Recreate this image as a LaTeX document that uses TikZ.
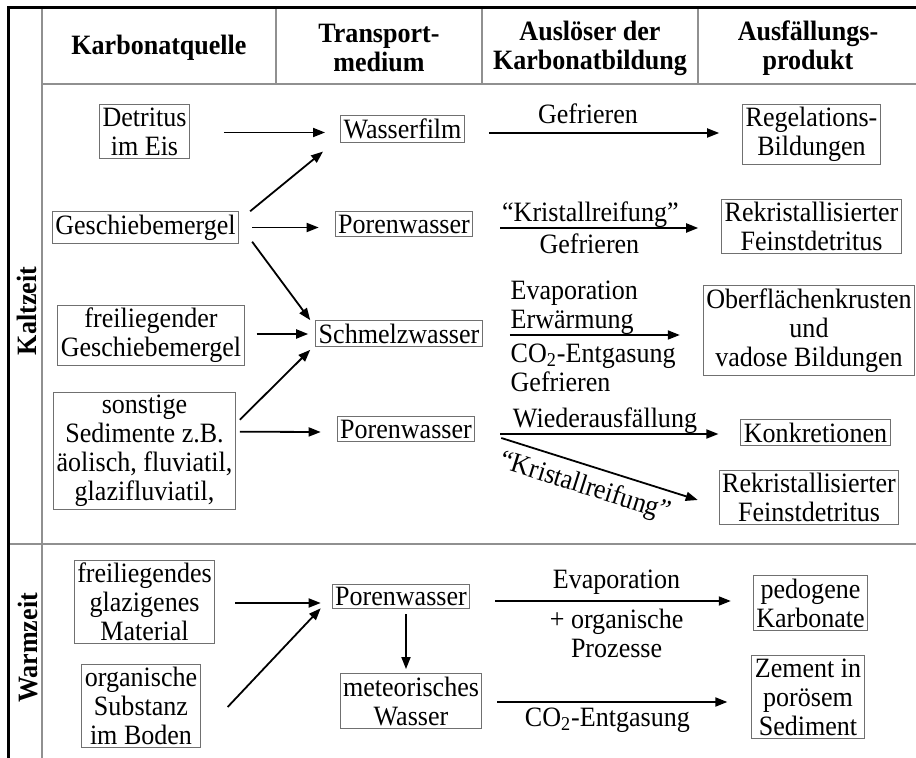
\documentclass[tikz,border=0pt]{standalone}
\usepackage{fontspec}
\setmainfont{Liberation Serif}[FakeStretch=0.93]
\usetikzlibrary{arrows.meta}
\definecolor{lgray}{HTML}{909090}
\definecolor{bgray}{HTML}{707070}

\begin{document}
\begin{tikzpicture}[
    x=0.5pt, y=-0.5pt,
    every node/.style={font=\fontsize{14}{14.5}\selectfont},
    box/.style={rectangle, draw=bgray, line width=0.5pt, inner sep=1.5pt, align=center},
    head/.style={align=center, font=\fontsize{14}{14.5}\selectfont\bfseries},
    era/.style={rotate=90, font=\fontsize{14}{14.5}\selectfont\bfseries},
    arr/.style={-{Triangle[length=6pt, width=4.5pt]}, line width=0.9pt},
    lab/.style={inner sep=0pt, align=center},
    rule/.style={lgray, line width=0.6pt},
]

\useasboundingbox (0,0) rectangle (916,758);

% Table lines
\draw[rule] (42,8) -- (42,758);
\draw[rule] (42,84) -- (916,84);
\draw[rule] (8,544) -- (916,544);
\foreach \cx in {276,482,698}
    \draw[rule] (\cx,8) -- (\cx,84);
\draw[line width=1.5pt] (8,758) -- (8,8) -- (916,8);

% Header
\node[head] (hquelle) at (159,48) {Karbonatquelle};
\node[head] (hmedium) at (379,48) {Transport-\\medium};
\node[head] (hausl) at (590,48) {Auslöser der\\Karbonatbildung};
\node[head] (hprod) at (808,48) {Ausfällungs-\\produkt};

\node[era] (kalt) at (27,311) {Kaltzeit};
\node[era] (warm) at (28,648) {Warmzeit};

% Kaltzeit: sources
\node[box] (detritus) at (144.5,131.5) {Detritus\\im Eis};
\node[box] (gmergel) at (145.5,227.5) {Geschiebemergel};
\node[box] (fmergel) at (151,335.5) {freiliegender\\Geschiebemergel};
\node[box] (sonst) at (144.5,451) {sonstige\\Sedimente z.B.\\äolisch, fluviatil,\\glazifluviatil,};

% Kaltzeit: media
\node[box] (wfilm) at (402.5,129) {Wasserfilm};
\node[box] (pw1) at (404,224) {Porenwasser};
\node[box] (schmelz) at (399,333.5) {Schmelzwasser};
\node[box] (pw2) at (406,429) {Porenwasser};

% Kaltzeit: products
\node[box] (regel) at (811.5,134.5) {Regelations-\\Bildungen};
\node[box] (rek1) at (811.5,226.5) {Rekristallisierter\\Feinstdetritus};
\node[box] (krust) at (809,330.5) {Oberflächenkrusten\\und\\vadose Bildungen};
\node[box] (konkr) at (815.5,432.5) {Konkretionen};
\node[box] (rek2) at (809,497.5) {Rekristallisierter\\Feinstdetritus};

% Warmzeit
\node[box] (glaz) at (144.5,602) {freiliegendes\\glazigenes\\Material};
\node[box] (organ) at (141,706) {organische\\Substanz\\im Boden};
\node[box] (pw3) at (401,596.5) {Porenwasser};
\node[box] (meteor) at (411,701) {meteorisches\\Wasser};
\node[box] (pedo) at (810.5,603) {pedogene\\Karbonate};
\node[box] (zement) at (808,697) {Zement in\\porösem\\Sediment};

% Arrows: sources -> media
\draw[arr] ([shift={(34,1)}]detritus.east) -- ([shift={(-15,3.5)}]wfilm.west);
\draw[arr] ([shift={(11,0)}]gmergel.north east) -- ([shift={(-17,9)}]wfilm.south west);
\draw[arr] ([shift={(13,0)}]gmergel.east) -- ([shift={(-16,3.5)}]pw1.west);
\draw[arr] ([shift={(13,-2)}]gmergel.south east) -- ([shift={(-5,0)}]schmelz.north west);
\draw[arr] ([shift={(12,-1.5)}]fmergel.east) -- ([shift={(-7,0.5)}]schmelz.west);
\draw[arr] ([shift={(4,28)}]sonst.north east) -- ([shift={(-5,3)}]schmelz.south west);
\draw[arr] ([shift={(4,40)}]sonst.north east) -- ([shift={(-16,3)}]pw2.west);
\draw[arr] ([shift={(20,1)}]glaz.east) -- ([shift={(-11,6.5)}]pw3.west);
\draw[arr] ([shift={(27,1)}]organ.east) -- ([shift={(-11,-1)}]pw3.south west);
\draw[arr] ([shift={(5,5)}]pw3.south) -- ([shift={(-5,-4)}]meteor.north);

% Arrows: media -> products
\draw[arr] ([shift={(24,4)}]wfilm.east) -- node[lab, above=4pt, pos=.43] {Gefrieren}
    ([shift={(-23,-1.5)}]regel.west);
\draw[arr] ([shift={(27,4)}]pw1.east) -- node[lab, above, pos=.455] {“Kristallreifung”}
    node[lab, below=2.5pt, pos=.45] {Gefrieren} ([shift={(-23,1.5)}]rek1.west);
\draw[arr] ([shift={(27,1.5)}]schmelz.east) -- node[lab, align=left, anchor=south west, pos=0] {Evaporation\\Erwärmung}
    node[lab, align=left, anchor=north west, yshift=-4pt, pos=0] {CO\textsubscript{2}-Entgasung\\Gefrieren}
    ([shift={(-23,4.5)}]krust.west);
\draw[arr] ([shift={(25,5)}]pw2.east) -- node[lab, above, pos=.48] {Wiederausfällung}
    ([shift={(-22,1.5)}]konkr.west);
\draw[arr] ([shift={(26,9)}]pw2.east) -- node[lab, below=4pt, sloped, pos=.46] {“Kristallreifung”}
    ([shift={(-21,2.5)}]rek2.west);
\draw[arr] ([shift={(25,4.5)}]pw3.east) -- node[lab, above=3pt, pos=.515] {Evaporation}
    node[lab, below=3.5pt, pos=.515] {+ organische\\Prozesse} ([shift={(-22,-2)}]pedo.west);
\draw[arr] ([shift={(15,1)}]meteor.east) -- node[lab, below=2.5pt, pos=.478] {CO\textsubscript{2}-Entgasung}
    ([shift={(-24,5)}]zement.west);

\end{tikzpicture}
\end{document}
